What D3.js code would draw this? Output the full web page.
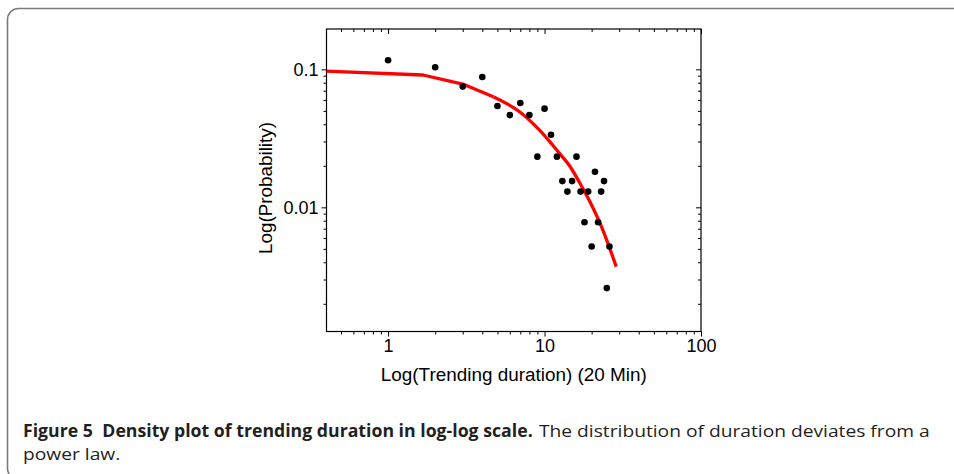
<!DOCTYPE html>
<html>
<head>
<meta charset="utf-8">
<script src="https://cdn.jsdelivr.net/npm/d3@7"></script>
<style>
  html, body { margin: 0; padding: 0; background: #fff; }
  svg { display: block; }
</style>
</head>
<body>
<svg id="chart" width="954" height="474"></svg>
<script>
// ---- data ----
const durations = [1,2,3,4,5,6,7,8,9,10,11,12,13,14,15,16,17,18,19,20,21,22,23,24,25,26];
const probabilities = [0.1165,0.1035,0.0750,0.0880,0.0542,0.0466,0.0570,0.0466,0.0233,0.0519,
  0.0336,0.0233,0.0155,0.0130,0.0155,0.0233,0.0130,0.0078,0.0130,0.0052,
  0.0181,0.0078,0.0130,0.0155,0.0026,0.0052];
const fitX = [0.4, 1.67, 3.0, 4.7, 6.92, 9.29, 12.47, 14.45, 16.7, 19.4, 23.6, 28.7];
const fitY = [0.0972, 0.0910, 0.0782, 0.0633, 0.0493, 0.0363, 0.0246, 0.0200, 0.0152, 0.0111, 0.00685, 0.00372];
const xTickValues = [1, 10, 100];
const xTickLabels = ["1", "10", "100"];
const yTickValues = [0.1, 0.01];
const yTickLabels = ["0.1", "0.01"];
const xTitle = "Log(Trending duration) (20 Min)";
const yTitle = "Log(Probability)";
const captionBold = ["Figure 5", "Density plot of trending duration in log-log scale."];
const captionRest = "The distribution of duration deviates from a";
const captionLine2 = "power law.";

// ---- layout ----
const svg = d3.select("#chart");
const L = 326.5, R = 701, T = 29, B = 331.5;
const x = d3.scaleLog().domain([0.404, 100]).range([L, R]);
const y = d3.scaleLog().domain([0.00126, 0.196]).range([B, T]);
const axisFont = "'Liberation Sans', Arial, sans-serif";

// caption frame
svg.append("rect")
  .attr("x", 7.5).attr("y", 8.5).attr("width", 1100).attr("height", 471)
  .attr("rx", 11).attr("ry", 11)
  .attr("fill", "none").attr("stroke", "#7b7b7b").attr("stroke-width", 1.6);

function minorTicks(scale) {
  const [a, b] = scale.domain();
  const out = [];
  for (let e = Math.floor(Math.log10(a)); e <= Math.ceil(Math.log10(b)); e++) {
    for (let m = 1; m <= 9; m++) {
      const v = m * Math.pow(10, e);
      if (v >= a * 0.999 && v <= b * 1.001) out.push(v);
    }
  }
  return out;
}
const xMinor = minorTicks(x).filter(v => !xTickValues.includes(v));
const yMinor = minorTicks(y).filter(v => !yTickValues.some(t => Math.abs(t - v) < 1e-12));

const major = 5, minor = 3;

const gB = svg.append("g").attr("transform", `translate(0,${B})`);
gB.call(d3.axisBottom(x).tickValues(xTickValues).tickSize(major).tickFormat((d, i) => xTickLabels[i]).tickPadding(3));
gB.append("g").call(d3.axisBottom(x).tickValues(xMinor).tickSize(minor).tickFormat(""));
const gT = svg.append("g").attr("transform", `translate(0,${T})`);
gT.call(d3.axisBottom(x).tickValues(xTickValues).tickSize(major).tickFormat(""));
gT.append("g").call(d3.axisBottom(x).tickValues(xMinor).tickSize(minor).tickFormat(""));
const gL = svg.append("g").attr("transform", `translate(${L},0)`);
gL.call(d3.axisLeft(y).tickValues(yTickValues).tickSize(major).tickFormat((d, i) => yTickLabels[i]).tickPadding(3));
gL.append("g").call(d3.axisLeft(y).tickValues(yMinor).tickSize(minor).tickFormat(""));
const gR = svg.append("g").attr("transform", `translate(${R},0)`);
gR.call(d3.axisLeft(y).tickValues(yTickValues).tickSize(major).tickFormat(""));
gR.append("g").call(d3.axisLeft(y).tickValues(yMinor).tickSize(minor).tickFormat(""));

svg.selectAll(".domain").remove();
svg.selectAll(".tick line").attr("stroke", "#000").attr("stroke-width", 1);
svg.selectAll("g").attr("font-size", null).attr("font-family", null);
svg.selectAll(".tick text").attr("font-family", axisFont).attr("font-size", 18).attr("fill", "#000");

svg.append("rect").attr("x", L).attr("y", T).attr("width", R - L).attr("height", B - T)
  .attr("fill", "none").attr("stroke", "#000").attr("stroke-width", 1.2);

// fit line: straight segments at the low end, smooth bend after
const clipId = "plotclip";
svg.append("clipPath").attr("id", clipId).append("rect")
  .attr("x", L).attr("y", T).attr("width", R - L).attr("height", B - T);
const fitPts = fitX.map((v, i) => [v, fitY[i]]);
const lineLin = d3.line().x(d => x(d[0])).y(d => y(d[1]));
const lineSmooth = d3.line().x(d => x(d[0])).y(d => y(d[1])).curve(d3.curveMonotoneX);
const lineStyle = sel => sel.attr("clip-path", `url(#${clipId})`).attr("fill", "none")
  .attr("stroke", "#ff0000").attr("stroke-width", 3.3).attr("stroke-linejoin", "round");
svg.append("path").datum(fitPts.slice(0, 4)).attr("d", lineLin).call(lineStyle);
svg.append("path").datum(fitPts.slice(3)).attr("d", lineSmooth).call(lineStyle);

svg.append("g").selectAll("circle").data(durations).join("circle")
  .attr("cx", d => x(d)).attr("cy", (d, i) => y(probabilities[i])).attr("r", 3.3)
  .attr("fill", "#000");

svg.append("text").attr("x", (L + R) / 2).attr("y", 381)
  .attr("text-anchor", "middle").attr("font-family", axisFont).attr("font-size", 18)
  .attr("textLength", 266).attr("lengthAdjust", "spacingAndGlyphs")
  .text(xTitle);
svg.append("text").attr("transform", `translate(272,188) rotate(-90)`)
  .attr("text-anchor", "middle").attr("font-family", axisFont).attr("font-size", 18)
  .attr("textLength", 132).attr("lengthAdjust", "spacingAndGlyphs")
  .text(yTitle);

// caption (fit each run to the width it takes in the reference)
const capFont = "'Open Sans', 'Noto Sans', sans-serif";
function capText(x0, y0, width, bold) {
  const t = svg.append("text").attr("font-family", capFont).attr("font-size", 17)
    .attr("fill", "#231f20").attr("font-weight", bold ? "bold" : "normal");
  return { t, place: () => {
    const bb = t.node().getBBox();
    const s = width / (bb.x + bb.width);
    t.attr("transform", `translate(${x0},${y0}) scale(${s},1)`);
    return s;
  }};
}
const cb = capText(23, 437, 510, true);
cb.t.append("tspan").text(captionBold[0]);
cb.t.append("tspan").attr("dx", 9).text(captionBold[1]);
cb.place();
const cr = capText(539, 437, 391, false);
cr.t.text(captionRest);
const sReg = cr.place();
svg.append("text").attr("transform", `translate(23,460) scale(${sReg},1)`)
  .attr("font-family", capFont).attr("font-size", 17).attr("fill", "#231f20")
  .text(captionLine2);
</script>
</body>
</html>
